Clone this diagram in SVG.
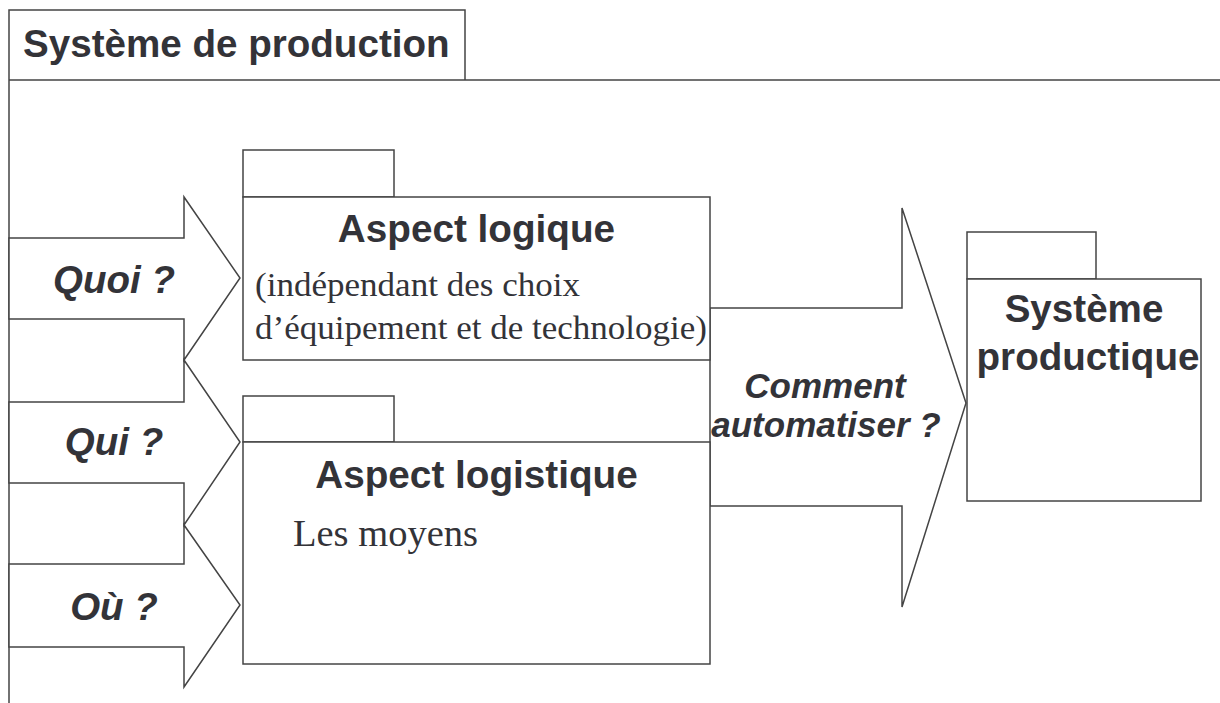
<svg xmlns="http://www.w3.org/2000/svg" width="1220" height="703" viewBox="0 0 1220 703">
<style>
.ln{fill:#fff;stroke:#444;stroke-width:1.5;}
.fr{fill:none;stroke:#444;stroke-width:1.5;}
.h{font-family:"Liberation Sans",Arial,sans-serif;font-weight:bold;fill:#333338;}
.q{font-family:"Liberation Sans",Arial,sans-serif;font-weight:bold;font-style:italic;fill:#333338;}
.s{font-family:"Liberation Serif","Times New Roman",serif;fill:#333338;}
</style>
<rect width="1220" height="703" fill="#fff"/>
<g id="frame">
<path class="fr" d="M9,703 V10 H465 V80 M9,80 H1220"/>
<text class="h" x="23" y="57" font-size="38.6">Système de production</text>
</g>
<g id="connectors">
<polygon class="ln" points="9,238 184,238 184,197 240,278 184,360 184,319 9,319"/>
<polygon class="ln" points="9,402 184,402 184,360 240,442 184,525 184,483 9,483"/>
<polygon class="ln" points="9,564 184,564 184,525 240,605 184,687 184,647 9,647"/>
<text class="q" x="114" y="293" font-size="38.5" text-anchor="middle">Quoi ?</text>
<text class="q" x="114" y="455" font-size="38.5" text-anchor="middle">Qui ?</text>
<text class="q" x="114" y="620" font-size="38.5" text-anchor="middle">Où ?</text>
<polygon class="ln" points="710,308 902,308 902,208 966,403 902,607 902,506 710,506"/>
<text class="q" x="825" y="398" font-size="35" text-anchor="middle">Comment</text>
<text class="q" x="826" y="437" font-size="35" text-anchor="middle">automatiser ?</text>
</g>
<g id="aspect-logique">
<rect class="ln" x="243" y="150" width="151" height="47"/>
<rect class="ln" x="243" y="197" width="467" height="163"/>
<text class="h" x="476.5" y="242" font-size="38.7" text-anchor="middle">Aspect logique</text>
<text class="s" x="255" y="296" font-size="34" textLength="325" lengthAdjust="spacingAndGlyphs">(indépendant des choix</text>
<text class="s" x="255" y="339" font-size="34" textLength="452" lengthAdjust="spacingAndGlyphs">d’équipement et de technologie)</text>
</g>
<g id="aspect-logistique">
<rect class="ln" x="243" y="396" width="151" height="46"/>
<rect class="ln" x="243" y="442" width="467" height="222"/>
<text class="h" x="476.5" y="488" font-size="38.7" text-anchor="middle">Aspect logistique</text>
<text class="s" x="293" y="546" font-size="38.5">Les moyens</text>
</g>
<g id="systeme-productique">
<rect class="ln" x="967" y="232" width="129" height="47"/>
<rect class="ln" x="967" y="279" width="234" height="222"/>
<text class="h" x="1084" y="322" font-size="38.6" text-anchor="middle">Système</text>
<text class="h" x="1088" y="370" font-size="38.6" text-anchor="middle">productique</text>
</g>
</svg>
